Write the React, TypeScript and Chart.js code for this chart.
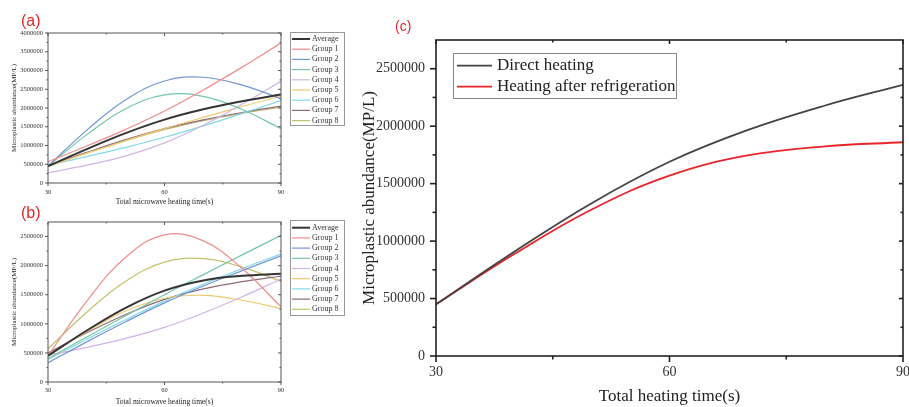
import React, { useEffect, useRef } from "react";
import { Chart, registerables } from "chart.js";

Chart.register(...registerables);

// ---------- data ----------
const TIMES = [30, 40, 50, 60, 70, 80, 90];
const X_TICKS = [30, 60, 90];
const A_Y_TICKS = [0, 500000, 1000000, 1500000, 2000000, 2500000, 3000000, 3500000, 4000000];
const B_Y_TICKS = [0, 500000, 1000000, 1500000, 2000000, 2500000];
const C_Y_TICKS = [0, 500000, 1000000, 1500000, 2000000, 2500000];

const GROUP_LABELS = ["Average", "Group 1", "Group 2", "Group 3", "Group 4", "Group 5", "Group 6", "Group 7", "Group 8"];
const GROUP_COLORS = ["#353535", "#f28b8b", "#7396d9", "#72c9a4", "#d2b4e8", "#efc96e", "#83d9e6", "#8c6a7c", "#c2c26e"];

// (a) direct heating
const A_AVERAGE = [450000, 905000, 1330000, 1690000, 1965000, 2180000, 2360000];
const A_GROUP1 = [570000, 985000, 1430000, 1920000, 2480000, 3090000, 3730000];
const A_GROUP2 = [450000, 1410000, 2220000, 2720000, 2820000, 2610000, 2250000];
const A_GROUP3 = [450000, 1290000, 1980000, 2350000, 2310000, 1960000, 1450000];
const A_GROUP4 = [270000, 475000, 725000, 1070000, 1540000, 2100000, 2710000];
const A_GROUP5 = [450000, 795000, 1130000, 1450000, 1750000, 2040000, 2320000];
const A_GROUP6 = [470000, 705000, 950000, 1220000, 1525000, 1855000, 2200000];
const A_GROUP7 = [450000, 815000, 1155000, 1450000, 1685000, 1880000, 2050000];
const A_GROUP8 = [440000, 800000, 1130000, 1420000, 1660000, 1855000, 2020000];

// (b) heating after refrigeration
const B_AVERAGE = [450000, 885000, 1275000, 1570000, 1745000, 1825000, 1860000];
const B_GROUP1 = [450000, 1390000, 2145000, 2530000, 2425000, 1950000, 1290000];
const B_GROUP2 = [330000, 690000, 1035000, 1360000, 1650000, 1915000, 2170000];
const B_GROUP3 = [400000, 775000, 1140000, 1500000, 1845000, 2185000, 2520000];
const B_GROUP4 = [460000, 595000, 750000, 940000, 1185000, 1465000, 1770000];
const B_GROUP5 = [450000, 865000, 1220000, 1440000, 1490000, 1405000, 1260000];
const B_GROUP6 = [390000, 735000, 1070000, 1390000, 1680000, 1950000, 2200000];
const B_GROUP7 = [500000, 845000, 1160000, 1420000, 1600000, 1725000, 1820000];
const B_GROUP8 = [570000, 1200000, 1730000, 2060000, 2120000, 1975000, 1730000];

// (c) comparison
const C_LABELS = ["Direct heating", "Heating after refrigeration"];
const C_COLORS = ["#434343", "#e8232a"];
const C_DIRECT = [450000, 905000, 1330000, 1690000, 1965000, 2180000, 2360000];
const C_REFRIG = [450000, 885000, 1275000, 1570000, 1745000, 1825000, 1860000];

const AB_X_TITLE = "Total microwave heating time(s)";
const C_X_TITLE = "Total heating time(s)";
const Y_TITLE = "Microplastic abundance(MP/L)";

const SERIF = '"Liberation Serif", "Times New Roman", serif';
const SANS = '"Liberation Sans", Arial, sans-serif';

// ---------- plugins ----------
function framePlugin(f: { color: string; width: number; outMajor: number; outMinor: number; inMajor: number; inMinor: number }) {
  return {
    id: "originFrame",
    afterDatasetsDraw(chart: any) {
      const { ctx, chartArea: a, scales } = chart;
      const xs = scales.x;
      const ys = scales.y;
      ctx.save();
      ctx.strokeStyle = f.color;
      ctx.lineWidth = f.width;
      const seg = (x1: number, y1: number, x2: number, y2: number) => {
        ctx.beginPath();
        ctx.moveTo(x1, y1);
        ctx.lineTo(x2, y2);
        ctx.stroke();
      };
      const xv: number[] = xs.ticks.map((t: any) => t.value);
      const yv: number[] = ys.ticks.map((t: any) => t.value);
      const xMinor = xv.slice(1).map((v, i) => (v + xv[i]) / 2);
      const yStep = yv[1] - yv[0];
      const yMinor = yv.map((v) => v + yStep / 2).filter((v) => v < ys.max);
      xv.forEach((v) => {
        const px = xs.getPixelForValue(v);
        seg(px, a.bottom, px, a.bottom + f.outMajor);
        seg(px, a.top, px, a.top + f.inMajor);
      });
      xMinor.forEach((v) => {
        const px = xs.getPixelForValue(v);
        seg(px, a.bottom, px, a.bottom + f.outMinor);
        seg(px, a.top, px, a.top + f.inMinor);
      });
      yv.forEach((v) => {
        const py = ys.getPixelForValue(v);
        seg(a.left, py, a.left - f.outMajor, py);
        seg(a.right, py, a.right - f.inMajor, py);
      });
      yMinor.forEach((v) => {
        const py = ys.getPixelForValue(v);
        seg(a.left, py, a.left - f.outMinor, py);
        seg(a.right, py, a.right - f.inMinor, py);
      });
      ctx.strokeRect(a.left, a.top, a.right - a.left, a.bottom - a.top);
      ctx.restore();
    },
  };
}

function legendPlugin(L: { x: number; y: number; w: number; h: number; first: number; row: number; l0: number; l1: number; tx: number; font: string; color: string; border: string }) {
  return {
    id: "boxLegend",
    afterDraw(chart: any) {
      const ctx = chart.ctx;
      ctx.save();
      ctx.fillStyle = "#ffffff";
      ctx.fillRect(L.x, L.y, L.w, L.h);
      ctx.strokeStyle = L.border;
      ctx.lineWidth = 1;
      ctx.strokeRect(L.x + 0.5, L.y + 0.5, L.w, L.h);
      chart.data.datasets.forEach((ds: any, i: number) => {
        const cy = L.y + L.first + i * L.row;
        ctx.strokeStyle = ds.borderColor;
        ctx.lineWidth = ds.borderWidth;
        ctx.beginPath();
        ctx.moveTo(L.x + L.l0, cy);
        ctx.lineTo(L.x + L.l1, cy);
        ctx.stroke();
        ctx.fillStyle = L.color;
        ctx.font = L.font;
        ctx.textBaseline = "middle";
        ctx.textAlign = "left";
        ctx.fillText(ds.label, L.x + L.tx, cy);
      });
      ctx.restore();
    },
  };
}

// ---------- config ----------
function makeDatasets(arrays: number[][], labels: string[], colors: string[], widths: number[]) {
  return arrays.map((arr, i) => ({
    label: labels[i],
    data: TIMES.map((t, j) => ({ x: t, y: arr[j] })),
    borderColor: colors[i],
    backgroundColor: colors[i],
    borderWidth: widths[i],
    pointRadius: 0,
    tension: 0.4,
    fill: false,
  }));
}

type Geo = { w: number; h: number; left: number; top: number; right: number; bottom: number };

function makeConfig(p: {
  geo: Geo;
  datasets: any[];
  yMax: number;
  yTicks: number[];
  tickSize: number;
  yTickPad: number;
  xTickPad: number;
  xTitleSize: number;
  yTitleSize: number;
  yTitlePad: number;
  xTitlePad: number;
  xTitle: string;
  plugins: any[];
}): any {
  const g = p.geo;
  return {
    type: "line",
    data: { datasets: p.datasets },
    plugins: p.plugins,
    options: {
      responsive: false,
      maintainAspectRatio: false,
      animation: false,
      devicePixelRatio: 1,
      layout: { padding: { left: 0, top: g.top, right: g.w - g.right, bottom: 0 } },
      plugins: { legend: { display: false }, tooltip: { enabled: false }, title: { display: false } },
      scales: {
        x: {
          type: "linear",
          min: 30,
          max: 90,
          afterBuildTicks: (s: any) => {
            s.ticks = X_TICKS.map((v) => ({ value: v }));
          },
          ticks: {
            callback: (v: any) => String(v),
            font: { family: SERIF, size: p.tickSize },
            color: "#333",
            padding: p.xTickPad,
            maxRotation: 0,
            autoSkip: false,
          },
          grid: { display: false, drawTicks: false },
          border: { display: false },
          title: {
            display: true,
            text: p.xTitle,
            font: { family: SERIF, size: p.xTitleSize },
            color: "#222",
            padding: { top: 0, bottom: p.xTitlePad },
          },
          afterFit: (s: any) => {
            s.height = g.h - g.bottom;
            s.paddingLeft = 0;
            s.paddingRight = 0;
          },
        },
        y: {
          type: "linear",
          min: 0,
          max: p.yMax,
          afterBuildTicks: (s: any) => {
            s.ticks = p.yTicks.map((v) => ({ value: v }));
          },
          ticks: {
            callback: (v: any) => String(v),
            font: { family: SERIF, size: p.tickSize },
            color: "#333",
            padding: p.yTickPad,
            autoSkip: false,
          },
          grid: { display: false, drawTicks: false },
          border: { display: false },
          title: {
            display: true,
            text: Y_TITLE,
            font: { family: SERIF, size: p.yTitleSize },
            color: "#222",
            padding: { top: p.yTitlePad, bottom: 0 },
          },
          afterFit: (s: any) => {
            s.width = g.left;
            s.paddingTop = 0;
            s.paddingBottom = 0;
          },
        },
      },
    },
  };
}

const GROUP_WIDTHS = [2, 1.2, 1.2, 1.2, 1.2, 1.2, 1.2, 1.2, 1.2];

export default function App() {
  const refA = useRef<HTMLCanvasElement>(null);
  const refB = useRef<HTMLCanvasElement>(null);
  const refC = useRef<HTMLCanvasElement>(null);

  useEffect(() => {
    const smallFrame = { color: "#555", width: 1, outMajor: 3, outMinor: 1.5, inMajor: 3, inMinor: 1.5 };
    const cfgA = makeConfig({
      geo: { w: 355, h: 207, left: 48, top: 33, right: 281, bottom: 183 },
      datasets: makeDatasets(
        [A_AVERAGE, A_GROUP1, A_GROUP2, A_GROUP3, A_GROUP4, A_GROUP5, A_GROUP6, A_GROUP7, A_GROUP8],
        GROUP_LABELS,
        GROUP_COLORS,
        GROUP_WIDTHS
      ),
      yMax: 4000000,
      yTicks: A_Y_TICKS,
      tickSize: 6.5,
      yTickPad: 5,
      xTickPad: 5,
      xTitleSize: 7.5,
      yTitleSize: 7,
      yTitlePad: 10,
      xTitlePad: 0,
      xTitle: AB_X_TITLE,
      plugins: [
        framePlugin(smallFrame),
        legendPlugin({ x: 290, y: 32, w: 54, h: 93, first: 7, row: 10.2, l0: 2, l1: 20, tx: 22, font: `8px ${SERIF}`, color: "#333", border: "#999" }),
      ],
    });
    const cfgB = makeConfig({
      geo: { w: 355, h: 200, left: 48, top: 15, right: 281, bottom: 175 },
      datasets: makeDatasets(
        [B_AVERAGE, B_GROUP1, B_GROUP2, B_GROUP3, B_GROUP4, B_GROUP5, B_GROUP6, B_GROUP7, B_GROUP8],
        GROUP_LABELS,
        GROUP_COLORS,
        GROUP_WIDTHS
      ),
      yMax: 2750000,
      yTicks: B_Y_TICKS,
      tickSize: 6.5,
      yTickPad: 5,
      xTickPad: 4,
      xTitleSize: 7.5,
      yTitleSize: 7,
      yTitlePad: 10,
      xTitlePad: 0,
      xTitle: AB_X_TITLE,
      plugins: [
        framePlugin(smallFrame),
        legendPlugin({ x: 290, y: 13, w: 54, h: 95, first: 7.7, row: 10.2, l0: 2, l1: 20, tx: 22, font: `8px ${SERIF}`, color: "#333", border: "#999" }),
      ],
    });
    const cfgC = makeConfig({
      geo: { w: 554, h: 407, left: 81, top: 40, right: 548, bottom: 356 },
      datasets: makeDatasets([C_DIRECT, C_REFRIG], C_LABELS, C_COLORS, [1.8, 1.8]),
      yMax: 2750000,
      yTicks: C_Y_TICKS,
      tickSize: 14,
      yTickPad: 11,
      xTickPad: 8,
      xTitleSize: 17,
      yTitleSize: 17,
      yTitlePad: 4,
      xTitlePad: 0,
      xTitle: C_X_TITLE,
      plugins: [
        framePlugin({ color: "#222", width: 1.6, outMajor: 6, outMinor: 3.5, inMajor: 4, inMinor: 2.5 }),
        legendPlugin({ x: 98, y: 53, w: 223, h: 45, first: 12.7, row: 21, l0: 4, l1: 39, tx: 44, font: `17px ${SERIF}`, color: "#222", border: "#888" }),
      ],
    });
    const charts = [new Chart(refA.current!, cfgA), new Chart(refB.current!, cfgB), new Chart(refC.current!, cfgC)];
    return () => charts.forEach((c) => c.destroy());
  }, []);

  const labelStyle = (left: number, top: number, size: number): React.CSSProperties => ({
    position: "absolute",
    left,
    top,
    fontFamily: SANS,
    fontSize: size,
    lineHeight: `${size}px`,
    color: "#e3262b",
    whiteSpace: "nowrap",
  });

  return (
    <div style={{ position: "fixed", left: 0, top: 0, width: 909, height: 407, background: "#fff", overflow: "hidden" }}>
      <canvas ref={refA} width={355} height={207} style={{ position: "absolute", left: 0, top: 0, width: 355, height: 207 }} />
      <canvas ref={refB} width={355} height={200} style={{ position: "absolute", left: 0, top: 207, width: 355, height: 200 }} />
      <canvas ref={refC} width={554} height={407} style={{ position: "absolute", left: 355, top: 0, width: 554, height: 407 }} />
      <div style={labelStyle(21, 13, 16)}>(a)</div>
      <div style={labelStyle(21, 205, 16)}>(b)</div>
      <div style={labelStyle(395, 19, 14)}>(c)</div>
    </div>
  );
}
